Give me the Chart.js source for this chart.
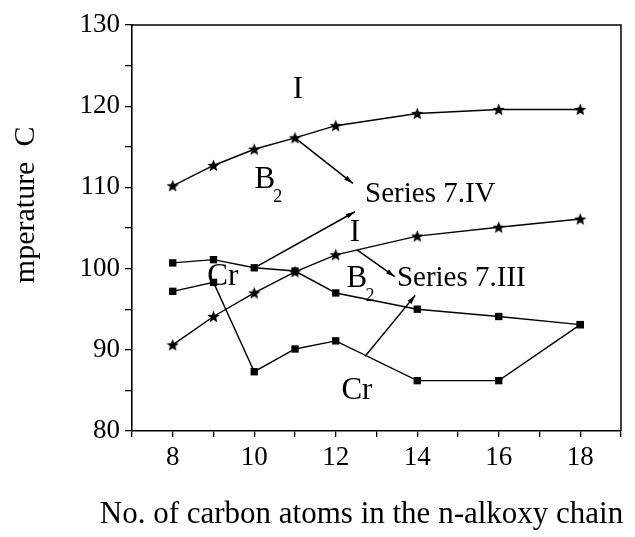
<!DOCTYPE html>
<html lang="en">
<head>
<meta charset="UTF-8">
<title>Transition temperatures vs chain length</title>
<script src="https://cdn.jsdelivr.net/npm/chart.js"></script>
<style>
  html, body { margin: 0; padding: 0; background: #fff; }
</style>
</head>
<body>
<canvas id="phaseChart" width="635" height="537"></canvas>
<script>
// number of carbon atoms in the n-alkoxy chain
const carbons = [8, 9, 10, 11, 12, 14, 16, 18];
// series 7.IV
const ivClearing = [110.2, 112.7, 114.7, 116.1, 117.6, 119.1, 119.6, 119.6];
const ivMelting  = [100.7, 101.1, 100.1, 99.7, 97.0, 95.0, 94.1, 93.1];
// series 7.III
const iiiClearing = [90.6, 94.1, 97.0, 99.6, 101.7, 104.0, 105.1, 106.1];
const iiiMelting  = [97.2, 98.3, 87.3, 90.1, 91.1, 86.2, 86.2, 93.1];

const xTickLabels = [8, 10, 12, 14, 16, 18];
const yTickLabels = [80, 90, 100, 110, 120, 130];

// phase names written on the plot: text, subscript, x, y (data units)
const phaseLabels = [
    ["I", "", 11.07, 122.0],
    ["B", "2", 10.26, 110.9],
    ["I", "", 12.47, 104.4],
    ["B", "2", 12.52, 98.7],
    ["Cr", "", 9.23, 99.0],
    ["Cr", "", 12.52, 85.0]
];
const seriesNames = [
    ["Series 7.IV", 12.72, 109.2],
    ["Series 7.III", 13.5, 98.8]
];
// pointer arrows: from (x1,y1) to arrow tip (x2,y2)
const pointers = [
    [11, 116.1, 12.42, 110.5],
    [10, 100.1, 12.47, 107.0],
    [12.52, 102.3, 13.45, 99.0],
    [12.72, 89.2, 13.95, 96.7]
];

const serif = "'Liberation Serif', 'DejaVu Serif', serif";

// filled five point star used as a marker
function makeStar(size) {
    const c = document.createElement("canvas");
    c.width = size; c.height = size;
    const g = c.getContext("2d");
    const r1 = size / 2, r2 = size / 4.6;
    g.beginPath();
    for (let i = 0; i < 10; i++) {
        const r = i % 2 === 0 ? r1 : r2;
        const a = -Math.PI / 2 + i * Math.PI / 5;
        const px = size / 2 + r * Math.cos(a), py = size / 2 + 0.5 + r * Math.sin(a);
        if (i === 0) g.moveTo(px, py); else g.lineTo(px, py);
    }
    g.closePath();
    g.fillStyle = "#000";
    g.fill();
    return c;
}
const star = makeStar(13);

function toPoints(ys) {
    return carbons.map((x, i) => ({ x: x, y: ys[i] }));
}

function lineSet(ys, style) {
    return {
        data: toPoints(ys),
        borderColor: "#000",
        borderWidth: 1.4,
        pointStyle: style,
        pointRadius: style === "rect" ? 5.2 : 6,
        pointBackgroundColor: "#000",
        pointBorderColor: "#000",
        pointBorderWidth: 0,
        tension: 0,
        fill: false
    };
}

const overlay = {
    id: "overlay",
    afterDatasetsDraw(chart) {
        const ctx = chart.ctx;
        const xs = chart.scales.x, ys = chart.scales.y;
        const area = chart.chartArea;
        ctx.save();
        // frame on top and right
        ctx.strokeStyle = "#000";
        ctx.lineWidth = 1.5;
        ctx.beginPath();
        ctx.moveTo(area.left, area.top);
        ctx.lineTo(area.right, area.top);
        ctx.lineTo(area.right, area.bottom);
        ctx.stroke();

        // pointer arrows
        ctx.lineWidth = 1.5;
        ctx.fillStyle = "#000";
        pointers.forEach(([x1, y1, x2, y2]) => {
            const ax = xs.getPixelForValue(x1), ay = ys.getPixelForValue(y1);
            const bx = xs.getPixelForValue(x2), by = ys.getPixelForValue(y2);
            ctx.beginPath();
            ctx.moveTo(ax, ay);
            ctx.lineTo(bx, by);
            ctx.stroke();
            const ang = Math.atan2(by - ay, bx - ax);
            ctx.beginPath();
            ctx.moveTo(bx, by);
            ctx.lineTo(bx - 9 * Math.cos(ang) + 2.5 * Math.sin(ang), by - 9 * Math.sin(ang) - 2.5 * Math.cos(ang));
            ctx.lineTo(bx - 9 * Math.cos(ang) - 2.5 * Math.sin(ang), by - 9 * Math.sin(ang) + 2.5 * Math.cos(ang));
            ctx.closePath();
            ctx.fill();
        });

        // phase labels
        ctx.textBaseline = "middle";
        phaseLabels.forEach(([t, sub, x, y]) => {
            const px = xs.getPixelForValue(x), py = ys.getPixelForValue(y);
            ctx.font = "31px " + serif;
            ctx.textAlign = "center";
            ctx.fillText(t, px, py);
            if (sub) {
                ctx.font = "18px " + serif;
                ctx.fillText(sub, px + 13, py + 17);
            }
        });
        ctx.font = "29px " + serif;
        ctx.textAlign = "left";
        seriesNames.forEach(([t, x, y]) => {
            ctx.fillText(t, xs.getPixelForValue(x), ys.getPixelForValue(y));
        });

        // x axis title, a little left of the plot centre as in the source
        ctx.textAlign = "center";
        ctx.font = "31px " + serif;
        ctx.fillText("No. of carbon atoms in the n-alkoxy chain", (area.left + area.right) / 2 - 15, area.bottom + 84);

        // y axis title (its first letters are cut off in the source)
        ctx.translate(area.left - 106, area.top + 0.443 * (area.bottom - area.top));
        ctx.rotate(-Math.PI / 2);
        ctx.font = "30px " + serif;
        ctx.fillText("mperature  C", 0, 0);
        ctx.restore();
    }
};

new Chart(document.getElementById("phaseChart"), {
    type: "line",
    data: {
        datasets: [
            lineSet(ivClearing, star),
            lineSet(ivMelting, "rect"),
            lineSet(iiiClearing, star),
            lineSet(iiiMelting, "rect")
        ]
    },
    options: {
        responsive: false,
        animation: false,
        devicePixelRatio: 1,
        layout: { padding: { top: 25, right: 14, left: 0, bottom: 0 } },
        plugins: { legend: { display: false }, tooltip: { enabled: false } },
        scales: {
            x: {
                type: "linear",
                min: 7,
                max: 19,
                afterFit: s => { s.height = 106; },
                ticks: {
                    stepSize: 1,
                    autoSkip: false,
                    maxRotation: 0,
                    padding: 5,
                    color: "#000",
                    font: { family: serif, size: 27 },
                    callback: v => xTickLabels.includes(v) ? String(v) : ""
                },
                grid: { drawOnChartArea: false, tickLength: 6, color: "#000", lineWidth: 1.3 },
                border: { color: "#000", width: 1.6 }
            },
            y: {
                min: 80,
                max: 130,
                afterFit: s => { s.width = 132; },
                ticks: {
                    stepSize: 5,
                    autoSkip: false,
                    padding: 5,
                    color: "#000",
                    font: { family: serif, size: 27 },
                    callback: v => yTickLabels.includes(v) ? String(v) : ""
                },
                grid: { drawOnChartArea: false, tickLength: 7, color: "#000", lineWidth: 1.3 },
                border: { color: "#000", width: 1.6 }
            }
        }
    },
    plugins: [overlay]
});
</script>
</body>
</html>
